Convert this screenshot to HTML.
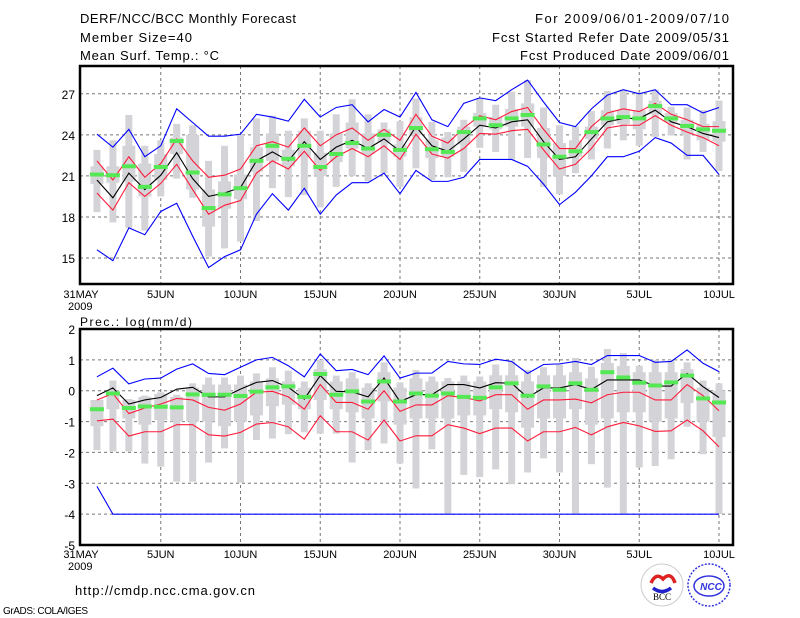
<!DOCTYPE html>
<html><head><meta charset="utf-8"><style>
html,body{margin:0;padding:0;background:#fff;}
svg{display:block;font-family:"Liberation Sans",sans-serif;}
</style></head><body>
<svg id="chart" width="800" height="618" viewBox="0 0 800 618" xmlns="http://www.w3.org/2000/svg">
<g font-size="13" fill="#000">
<text x="80" y="23" textLength="216">DERF/NCC/BCC Monthly Forecast</text>
<text x="80" y="42" textLength="112">Member Size=40</text>
<text x="80" y="60" textLength="139">Mean Surf. Temp.: °C</text>
<text x="535" y="23" textLength="194">For 2009/06/01-2009/07/10</text>
<text x="492" y="42" textLength="237">Fcst Started Refer Date 2009/05/31</text>
<text x="520" y="60" textLength="209">Fcst Produced Date 2009/06/01</text>
<text x="80" y="326" font-size="12" textLength="112">Prec.: log(mm/d)</text>
<text x="75" y="595" textLength="180">http://cmdp.ncc.cma.gov.cn</text>
<text x="3" y="614" font-size="10" textLength="85">GrADS: COLA/IGES</text>
</g>
<g>
<circle cx="662" cy="585" r="21" fill="#fff" stroke="#ccc"/>
<path d="M651 583 q5 -11 12 -4 q8 -8 12 4" fill="none" stroke="#d22" stroke-width="3.5"/>
<path d="M653 588 q9 7 18 0" fill="none" stroke="#22c" stroke-width="3.5"/>
<text x="662" y="600" font-size="9" font-family="Liberation Serif,serif" text-anchor="middle" fill="#000">BCC</text>
<circle cx="709" cy="585" r="21" fill="none" stroke="#33d" stroke-width="1.5" stroke-dasharray="2,1.5"/>
<ellipse cx="709" cy="586" rx="15" ry="10" fill="none" stroke="#33d" stroke-width="1.5"/>
<text x="711" y="590" font-size="10" font-style="italic" font-weight="bold" text-anchor="middle" fill="#33d">NCC</text>
</g>
<g id="top"></g>
<g id="bot"></g>
</svg>
<script>
// ---- Temperature data (days 1..40 = Jun1..Jul10) ----
const tBlueHi=[24.05,23.1,24.4,22.4,23.2,25.9,24.9,23.9,23.9,24.05,25.5,25.3,25.0,26.6,25.3,26.0,26.2,24.95,25.85,25.3,27.1,25.1,24.6,26.3,26.7,26.5,27.3,28.0,26.4,24.9,24.6,25.9,26.9,27.3,27.0,27.3,26.2,26.2,25.6,26.0];
const tBlueLo=[15.6,14.8,17.2,16.7,18.4,19.0,16.6,14.3,15.1,15.6,18.2,19.7,18.5,20.1,18.2,19.6,20.5,20.5,21.2,19.7,21.4,20.6,20.6,20.9,22.2,22.2,22.2,21.7,20.4,18.9,19.8,21.0,22.4,22.4,22.8,23.8,23.4,22.5,22.5,21.1];
const tRedHi=[22.1,20.7,22.4,20.9,21.9,23.7,22.1,20.9,21.05,21.5,23.2,23.5,23.1,24.5,23.2,24.0,24.5,23.6,24.4,23.6,25.5,23.9,23.4,24.5,25.4,25.1,25.7,26.0,24.4,23.0,23.0,24.6,25.6,25.9,25.7,26.3,25.5,25.1,24.6,24.6];
const tRedLo=[19.75,18.5,20.5,19.5,20.45,21.85,20.0,18.2,18.85,19.2,21.2,22.1,21.5,22.8,21.4,22.4,23.0,22.4,23.2,22.2,24.05,22.6,22.3,23.0,24.1,24.05,24.3,24.4,22.9,21.5,21.85,23.0,24.5,24.7,24.7,25.4,24.7,24.2,23.8,23.2];
const tMean=[20.7,19.4,21.2,20.0,21.05,22.7,20.8,19.5,19.75,20.15,22.1,22.75,22.1,23.5,22.2,23.1,23.6,23.0,23.7,22.8,24.6,23.2,22.8,23.7,24.7,24.5,24.95,25.1,23.5,22.2,22.4,23.7,24.95,25.2,25.2,25.8,24.95,24.6,24.1,23.8];
const tMedian=[21.1,21.05,21.7,20.2,21.65,23.55,21.25,18.65,19.65,20.1,22.1,23.2,22.25,23.2,21.65,22.6,23.4,23.0,24.0,22.9,24.5,22.95,22.75,24.2,25.2,24.7,25.2,25.45,23.3,22.4,22.8,24.2,25.2,25.3,25.2,26.1,25.2,24.65,24.4,24.3];
const tMax=[22.9,23.6,25.45,23.2,23.6,24.8,24.7,22.1,23.2,24.0,25.2,25.4,24.3,25.2,24.3,25.5,26.6,25.5,24.9,25.0,26.65,24.95,24.2,25.1,26.7,26.2,27.15,28.0,26.0,24.7,24.6,25.75,27.2,27.3,27.1,27.3,26.05,26.0,25.8,26.5];
const tMin=[18.35,17.6,17.2,17.0,19.5,20.8,19.4,15.1,15.7,16.2,17.7,20.1,19.45,19.6,18.7,20.2,21.0,20.6,21.2,20.2,21.55,20.7,20.9,21.3,23.05,22.75,22.15,22.3,20.2,19.65,21.2,22.2,23.0,23.6,23.2,23.85,23.95,22.2,22.75,21.35];
const tQ3=[21.7,21.7,23.2,21.9,22.6,23.8,24.0,20.0,20.6,21.1,23.1,24.1,22.9,24.3,22.7,24.1,24.9,24.1,24.4,23.3,25.3,23.6,23.8,24.6,25.6,25.3,25.9,26.3,24.5,23.4,23.6,24.6,25.8,25.8,25.8,26.5,25.6,25.1,24.8,25.0];
const tQ1=[20.4,20.5,20.6,19.5,20.7,22.6,20.0,17.3,18.6,19.3,21.3,22.1,21.7,22.4,21.0,22.0,23.0,22.6,23.5,22.4,24.0,22.3,22.4,23.3,24.6,24.4,24.6,24.6,22.3,21.0,22.4,23.7,24.7,24.8,24.4,25.5,24.9,24.0,23.6,23.5];
// ---- Precipitation data ----
const pBlueHi=[0.45,0.73,0.22,0.38,0.41,0.7,0.87,0.56,0.52,0.76,1.0,1.08,0.81,0.45,1.19,0.65,0.69,0.52,1.13,0.41,0.57,0.57,0.95,0.87,0.85,1.02,0.95,0.56,0.85,0.87,0.95,0.85,1.14,1.14,1.14,0.92,0.95,1.32,0.89,0.62];
const pBlueLo=[-3.1,-4,-4,-4,-4,-4,-4,-4,-4,-4,-4,-4,-4,-4,-4,-4,-4,-4,-4,-4,-4,-4,-4,-4,-4,-4,-4,-4,-4,-4,-4,-4,-4,-4,-4,-4,-4,-4,-4,-4];
const pRedHi=[-0.3,-0.09,-0.74,-0.56,-0.43,-0.25,-0.3,-0.54,-0.63,-0.43,-0.05,-0.02,-0.2,-0.6,0.2,-0.38,-0.38,-0.6,0.0,-0.67,-0.46,-0.46,-0.16,-0.22,-0.33,-0.13,-0.13,-0.6,-0.3,-0.3,-0.27,-0.39,-0.13,-0.05,-0.05,-0.3,-0.3,0.2,-0.16,-0.65];
const pRedLo=[-0.98,-0.92,-1.47,-1.33,-1.33,-1.1,-1.1,-1.43,-1.47,-1.35,-1.08,-1.03,-1.17,-1.57,-0.81,-1.33,-1.33,-1.6,-0.95,-1.63,-1.46,-1.46,-1.1,-1.21,-1.39,-1.21,-1.21,-1.63,-1.33,-1.33,-1.19,-1.43,-1.17,-1.03,-1.14,-1.32,-1.3,-0.95,-1.3,-1.82];
const pMean=[-0.16,0.09,-0.43,-0.3,-0.22,0.05,0.11,-0.2,-0.2,0.05,0.27,0.33,0.11,-0.27,0.49,-0.02,-0.04,-0.2,0.41,-0.35,-0.13,-0.13,0.2,0.2,0.09,0.26,0.24,-0.22,0.09,0.09,0.2,0.04,0.35,0.35,0.35,0.15,0.15,0.56,0.13,-0.22];
const pMedian=[-0.6,-0.09,-0.56,-0.51,-0.52,-0.54,-0.12,-0.13,-0.13,-0.17,-0.03,0.11,0.14,-0.2,0.54,-0.13,-0.02,-0.35,0.3,-0.35,-0.09,-0.16,-0.09,-0.2,-0.23,0.11,0.24,-0.16,0.14,0.03,0.24,0.03,0.6,0.43,0.26,0.17,0.27,0.49,-0.25,-0.38];
const pMax=[-0.33,0.33,-0.27,-0.16,-0.05,-0.13,0.24,0.43,0.43,0.49,0.56,0.76,0.65,0.3,1.0,0.49,0.6,0.24,0.92,0.27,0.67,0.46,0.41,0.49,0.46,0.85,0.95,0.67,0.76,0.85,1.06,0.78,1.35,1.22,0.81,1.0,1.0,0.92,0.33,0.24];
const pMin=[-1.93,-1.97,-1.97,-2.36,-2.46,-2.95,-2.95,-2.33,-1.87,-2.98,-1.6,-1.55,-1.41,-1.35,-1.39,-1.39,-2.33,-1.93,-1.71,-2.36,-3.17,-1.9,-4.0,-2.73,-2.8,-2.55,-3.03,-2.65,-2.19,-2.65,-4.0,-2.38,-3.14,-4.0,-2.49,-2.44,-2.22,-1.17,-2.06,-4.0];
const pQ3=[-0.3,0.0,-0.3,-0.2,-0.1,-0.2,0.1,0.2,0.2,0.2,0.3,0.4,0.3,0.1,0.7,0.3,0.4,0.1,0.6,0.1,0.4,0.3,0.3,0.3,0.3,0.5,0.5,0.3,0.5,0.5,0.6,0.4,0.9,0.8,0.6,0.6,0.6,0.7,0.1,0.0];
const pQ1=[-1.15,-0.6,-0.9,-1.1,-0.95,-1.0,-1.0,-1.0,-1.15,-1.0,-0.8,-0.5,-0.45,-0.6,-0.3,-0.6,-0.7,-0.9,-0.35,-1.1,-0.9,-0.9,-0.9,-0.8,-0.8,-0.6,-0.7,-1.2,-0.9,-0.9,-0.6,-1.1,-0.9,-0.7,-0.7,-1.0,-0.9,-0.4,-1.0,-1.5];
const xTickLabels=['31MAY','5JUN','10JUN','15JUN','20JUN','25JUN','30JUN','5JUL','10JUL'];
const tTicks=[15,18,21,24,27];
const pTicks=[2,1,0,-1,-2,-3,-4,-5];

const NS='http://www.w3.org/2000/svg';
function mk(parent,tag,attrs){const e=document.createElementNS(NS,tag);for(const k in attrs)e.setAttribute(k,attrs[k]);parent.appendChild(e);return e;}
const X0=81,DX=15.95;
function xOf(d){return X0+DX*d;}

function panel(g,top,bottom,vTop,vBot,ticks,series,labelY){
  const yOf=v=>top+(vTop-v)/(vTop-vBot)*(bottom-top);
  ticks.forEach(t=>{
    const y=yOf(t);
    if(t<vTop&&t>vBot){const l=mk(g,'line',{x1:80,x2:733,y1:y,y2:y,stroke:'#777','stroke-dasharray':'3,3','stroke-width':1});
    
    }
    const tx=mk(g,'text',{x:75,y:y+5,'text-anchor':'end','font-size':12});
    tx.textContent=t;
    
    
  });
  xTickLabels.forEach((lab,i)=>{
    const x=xOf(i*5);
    if(i>0){const l=mk(g,'line',{x1:x,x2:x,y1:top,y2:bottom,stroke:'#777','stroke-dasharray':'3,3','stroke-width':1});
    
    }
    const tx=mk(g,'text',{x:x,y:labelY,'text-anchor':'middle','font-size':11});
    tx.textContent=lab;
    
    
  });
  const yr=mk(g,'text',{x:68,y:labelY+12,'font-size':11});
  yr.textContent='2009';
  
  
  const [mx,mn,q3,q1,med,bh,bl,rh,rl,mean]=series;
  for(let i=0;i<40;i++){
    const x=xOf(i+1);
    const r1=mk(g,'rect',{x:x-3.5,y:yOf(mx[i]),width:7,height:yOf(mn[i])-yOf(mx[i]),fill:'#d4d4d8'});
    
    
    const r2=mk(g,'rect',{x:x-6.5,y:yOf(q3[i]),width:13,height:Math.max(0,yOf(q1[i])-yOf(q3[i])),fill:'#d4d4d8'});
    
    
  }
  const line=(arr,col,name)=>{
    const p=mk(g,'polyline',{points:arr.map((v,i)=>xOf(i+1)+','+yOf(v)).join(' '),fill:'none',stroke:col,'stroke-width':1.1});
    
    
  };
  line(bh,'#0000ff','max-line');line(bl,'#0000ff','min-line');
  line(rh,'#ff1a3a','upper-std-line');line(rl,'#ff1a3a','lower-std-line');
  line(mean,'#000','mean-line');
  for(let i=0;i<40;i++){
    const m=mk(g,'rect',{x:xOf(i+1)-7,y:yOf(med[i])-2,width:14,height:4,fill:'#55e855'});
    
    
  }
  const f=mk(g,'rect',{x:80,y:top,width:653,height:bottom-top,fill:'none',stroke:'#000','stroke-width':2.5});
  
  
}
panel(document.getElementById('top'),66,284,29.03,13.1,tTicks,[tMax,tMin,tQ3,tQ1,tMedian,tBlueHi,tBlueLo,tRedHi,tRedLo,tMean],298);
panel(document.getElementById('bot'),329,545,2,-5,pTicks,[pMax,pMin,pQ3,pQ1,pMedian,pBlueHi,pBlueLo,pRedHi,pRedLo,pMean],558);
</script>
</body></html>
